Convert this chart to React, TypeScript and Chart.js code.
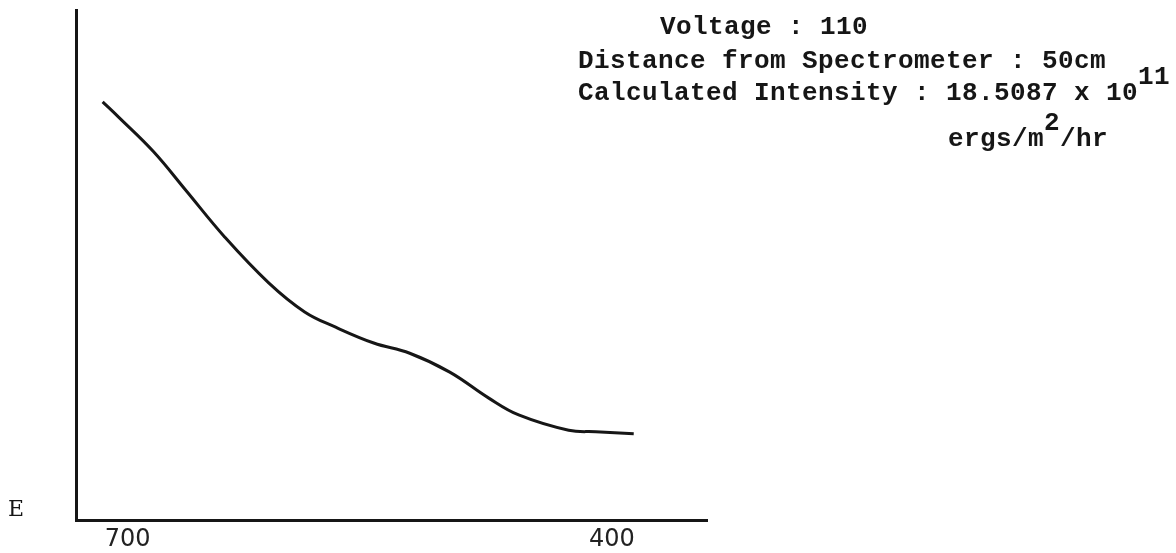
import React, { useEffect, useRef } from "react";
import { Chart, registerables } from "chart.js";

Chart.register(...registerables);

// Wavelength (nm) along the horizontal axis, decreasing to the right
const wavelengths = [715.5, 705.6, 683.9, 664.1, 639.9, 612.6, 590.3, 571.1, 547.5, 525.2, 500.4, 476.2, 457.7, 426.7, 409.9, 386.4];
// Relative energy E (arbitrary units)
const energy = [82.0, 79.0, 72.2, 64.7, 55.5, 46.5, 40.8, 37.8, 34.7, 32.7, 29.0, 23.9, 20.6, 17.6, 17.3, 16.9];
// Tick labels shown on the wavelength axis
const xTickValues = [700, 400];
const xRange = { min: 341, max: 732 };
const yRange = { min: 0, max: 100 };

const infoLines = {
  voltage: "Voltage : 110",
  distance: "Distance from Spectrometer : 50cm",
  intensity: "Calculated Intensity : 18.5087 x 10",
  intensityExp: "11",
  unitA: "ergs/m",
  unitExp: "2",
  unitB: "/hr",
  yLabel: "E",
};

const ink = "#161616";

const typeStyle: React.CSSProperties = {
  position: "absolute",
  fontFamily: '"Liberation Mono", "DejaVu Sans Mono", monospace',
  fontSize: "26px",
  fontWeight: "bold",
  lineHeight: "26px",
  letterSpacing: "0.4px",
  whiteSpace: "pre",
  color: ink,
};

export default function App() {
  const canvasRef = useRef<HTMLCanvasElement | null>(null);

  useEffect(() => {
    if (!canvasRef.current) return;
    const chart = new Chart(canvasRef.current, {
      type: "line",
      data: {
        datasets: [
          {
            data: wavelengths.map((w, i) => ({ x: w, y: energy[i] })),
            borderColor: ink,
            borderWidth: 3,
            pointRadius: 0,
            tension: 0.4,
            fill: false,
          },
        ],
      },
      options: {
        animation: false,
        responsive: false,
        events: [],
        layout: { padding: { left: 76, right: 469, top: 10, bottom: 0 } },
        plugins: { legend: { display: false }, tooltip: { enabled: false } },
        scales: {
          x: {
            type: "linear",
            reverse: true,
            min: xRange.min,
            max: xRange.max,
            grid: { display: false, drawTicks: false },
            border: { display: true, color: ink, width: 3 },
            afterBuildTicks: (scale: any) => {
              scale.ticks = xTickValues.map((v) => ({ value: v }));
            },
            afterFit: (scale: any) => {
              scale.height = 33;
            },
            ticks: {
              padding: 5,
              color: "#222",
              maxRotation: 0,
              autoSkip: false,
              font: { family: '"DejaVu Sans", sans-serif', size: 24 },
              callback: (v: any) => String(v),
            },
          },
          y: {
            type: "linear",
            min: yRange.min,
            max: yRange.max,
            grid: { display: false, drawTicks: false },
            border: { display: true, color: ink, width: 3 },
            ticks: { display: false },
            afterFit: (scale: any) => {
              scale.width = 0;
            },
          },
        },
      },
    });
    return () => chart.destroy();
  }, []);

  return (
    <div
      style={{
        position: "fixed",
        left: 0,
        top: 0,
        width: 1176,
        height: 553,
        background: "#ffffff",
        overflow: "hidden",
      }}
    >
      <canvas ref={canvasRef} width={1176} height={553} style={{ position: "absolute", left: 0, top: 0 }} />
      <div style={{ ...typeStyle, left: 660, top: 14 }}>{infoLines.voltage}</div>
      <div style={{ ...typeStyle, left: 578, top: 48 }}>{infoLines.distance}</div>
      <div style={{ ...typeStyle, left: 578, top: 80 }}>
        {infoLines.intensity}
        <span style={{ position: "relative", top: -16 }}>{infoLines.intensityExp}</span>
      </div>
      <div style={{ ...typeStyle, left: 948, top: 126 }}>
        {infoLines.unitA}
        <span style={{ position: "relative", top: -16 }}>{infoLines.unitExp}</span>
        {infoLines.unitB}
      </div>
      <div
        style={{
          ...typeStyle,
          left: 8,
          top: 498,
          fontFamily: '"DejaVu Serif", serif',
          fontSize: "22px",
          lineHeight: "22px",
          fontWeight: "normal",
        }}
      >
        {infoLines.yLabel}
      </div>
    </div>
  );
}
